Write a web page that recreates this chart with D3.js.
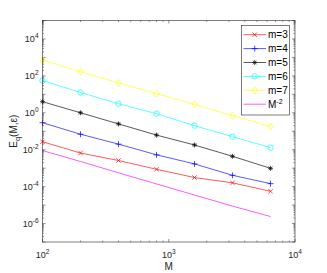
<!DOCTYPE html>
<html>
<head>
<meta charset="utf-8">
<script src="https://d3js.org/d3.v7.min.js"></script>
<style>
  body { margin: 0; background: #fff; }
  svg { display: block; font-family: "Liberation Sans", Arial, sans-serif; }
</style>
</head>
<body>
<div id="chart"></div>
<script>
// grid sizes M
const mValues = [100, 200, 400, 800, 1600, 3200, 6400];

// error values, one array per m
const errM3 = [2.7e-2, 6.6e-3, 2.6e-3, 8.7e-4, 3.1e-4, 1.6e-4, 5.6e-5];
const errM4 = [2.9e-1, 6.9e-2, 2.0e-2, 5.3e-3, 1.7e-3, 4.1e-4, 1.45e-4];
const errM5 = [4.0, 1.0, 2.5e-1, 6.2e-2, 1.8e-2, 4.4e-3, 9.8e-4];
const errM6 = [56, 12.6, 3.1, 8.9e-1, 2.0e-1, 5.1e-2, 1.3e-2];
const errM7 = [720, 170, 42, 11, 2.9, 7.0e-1, 1.8e-1];
const refM2 = [9.0e-3, 2.3e-3, 5.6e-4, 1.4e-4, 3.5e-5, 8.8e-6, 2.4e-6];

const seriesNames = ['m=3', 'm=4', 'm=5', 'm=6', 'm=7', 'M-2'];
const yTickLabels = [-6, -4, -2, 0, 2, 4];
const xTickLabels = [2, 3, 4];

const series = [
    { name: seriesNames[0], values: errM3, color: '#ff0000', marker: 'x' },
    { name: seriesNames[1], values: errM4, color: '#0000ff', marker: 'plus' },
    { name: seriesNames[2], values: errM5, color: '#000000', marker: 'star' },
    { name: seriesNames[3], values: errM6, color: '#00ffff', marker: 'circle' },
    { name: seriesNames[4], values: errM7, color: '#ffff00', marker: 'diamond' },
    { name: seriesNames[5], values: refM2, color: '#ff00ff', marker: 'none' }
];

const width = 327, height = 273;
const margin = { left: 42.5, right: 32, top: 20.5, bottom: 31 };

const svg = d3.select('#chart').append('svg')
    .attr('width', width)
    .attr('height', height);

const x = d3.scaleLog().domain([1e2, 1e4]).range([margin.left, width - margin.right]);
const y = d3.scaleLog().domain([1e-7, 1e5]).range([height - margin.bottom, margin.top]);

const x0 = x.range()[0], x1 = x.range()[1];
const y0 = y.range()[0], y1 = y.range()[1];

// ticks (inside, on all four sides like matlab box on)
const tickG = svg.append('g').attr('stroke', '#262626').attr('stroke-width', 0.5);

const yMinor = [];
for (let e = -7; e < 5; e++) {
    for (let k = 2; k <= 9; k++) yMinor.push(k * Math.pow(10, e));
}
yMinor.forEach(v => {
    tickG.append('line').attr('x1', x0).attr('x2', x0 + 1.5).attr('y1', y(v)).attr('y2', y(v));
    tickG.append('line').attr('x1', x1).attr('x2', x1 - 1.5).attr('y1', y(v)).attr('y2', y(v));
});
d3.range(-7, 6).forEach(e => {
    const v = Math.pow(10, e);
    tickG.append('line').attr('x1', x0).attr('x2', x0 + 3).attr('y1', y(v)).attr('y2', y(v));
    tickG.append('line').attr('x1', x1).attr('x2', x1 - 3).attr('y1', y(v)).attr('y2', y(v));
});

const xMinor = [];
for (let e = 2; e < 4; e++) {
    for (let k = 2; k <= 9; k++) xMinor.push(k * Math.pow(10, e));
}
xMinor.forEach(v => {
    tickG.append('line').attr('x1', x(v)).attr('x2', x(v)).attr('y1', y0).attr('y2', y0 - 1.5);
    tickG.append('line').attr('x1', x(v)).attr('x2', x(v)).attr('y1', y1).attr('y2', y1 + 1.5);
});
xTickLabels.forEach(e => {
    const v = Math.pow(10, e);
    tickG.append('line').attr('x1', x(v)).attr('x2', x(v)).attr('y1', y0).attr('y2', y0 - 3);
    tickG.append('line').attr('x1', x(v)).attr('x2', x(v)).attr('y1', y1).attr('y2', y1 + 3);
});

// tick labels
const labelColor = '#262626';
yTickLabels.forEach(e => {
    const t = svg.append('text')
        .attr('x', x0 - 4)
        .attr('y', y(Math.pow(10, e)) + 3.5)
        .attr('text-anchor', 'end')
        .attr('font-size', 9)
        .attr('fill', labelColor);
    t.append('tspan').text('10');
    t.append('tspan').attr('dy', -4).attr('font-size', 6.5).text(e);
});
xTickLabels.forEach(e => {
    const t = svg.append('text')
        .attr('x', x(Math.pow(10, e)))
        .attr('y', y0 + 16)
        .attr('text-anchor', 'middle')
        .attr('font-size', 9)
        .attr('fill', labelColor);
    t.append('tspan').text('10');
    t.append('tspan').attr('dy', -4).attr('font-size', 6.5).text(e);
});

// axis titles
svg.append('text')
    .attr('x', x(1e3))
    .attr('y', height - 3)
    .attr('text-anchor', 'middle')
    .attr('font-size', 10)
    .attr('fill', labelColor)
    .text('M');

const yTitle = svg.append('text')
    .attr('transform', `translate(17,${(y0 + y1) / 2}) rotate(-90)`)
    .attr('text-anchor', 'middle')
    .attr('font-size', 10)
    .attr('fill', labelColor);
yTitle.append('tspan').text('E');
yTitle.append('tspan').attr('dy', 3).attr('font-size', 7.5).text('q');
yTitle.append('tspan').attr('dy', -3).text('(M,ε)');

// lines and markers
const line = d3.line()
    .x((d, i) => x(mValues[i]))
    .y(d => y(d));

function drawMarker(g, type, cx, cy, color) {
    const sw = 0.7;
    if (type === 'x') {
        const s = 2.2;
        g.append('path').attr('d', `M${cx - s},${cy - s}L${cx + s},${cy + s}M${cx - s},${cy + s}L${cx + s},${cy - s}`)
            .attr('stroke', color).attr('stroke-width', sw).attr('fill', 'none');
    } else if (type === 'plus') {
        const s = 3;
        g.append('path').attr('d', `M${cx - s},${cy}L${cx + s},${cy}M${cx},${cy - s}L${cx},${cy + s}`)
            .attr('stroke', color).attr('stroke-width', sw).attr('fill', 'none');
    } else if (type === 'star') {
        const s = 2.5, d = 1.8;
        g.append('path').attr('d', `M${cx - s},${cy}L${cx + s},${cy}M${cx},${cy - s}L${cx},${cy + s}` +
            `M${cx - d},${cy - d}L${cx + d},${cy + d}M${cx - d},${cy + d}L${cx + d},${cy - d}`)
            .attr('stroke', color).attr('stroke-width', sw).attr('fill', 'none');
    } else if (type === 'circle') {
        g.append('circle').attr('cx', cx).attr('cy', cy).attr('r', 2.7)
            .attr('stroke', color).attr('stroke-width', sw).attr('fill', 'none');
    } else if (type === 'diamond') {
        g.append('path').attr('d', `M${cx},${cy - 3.5}L${cx + 2.7},${cy}L${cx},${cy + 3.5}L${cx - 2.7},${cy}Z`)
            .attr('stroke', color).attr('stroke-width', sw).attr('fill', 'none');
    }
}

const plotG = svg.append('g');
series.forEach(s => {
    plotG.append('path')
        .datum(s.values)
        .attr('d', line)
        .attr('fill', 'none')
        .attr('stroke', s.color)
        .attr('stroke-width', 0.65);
    s.values.forEach((v, i) => drawMarker(plotG, s.marker, x(mValues[i]), y(v), s.color));
});

// axes box
svg.append('rect')
    .attr('x', x0).attr('y', y1)
    .attr('width', x1 - x0).attr('height', y0 - y1)
    .attr('fill', 'none')
    .attr('stroke', '#262626')
    .attr('stroke-width', 0.6);

// legend
const legX = 241.5, legY = 25.5, legW = 48, legH = 89.5, rowH = 13.9;
const leg = svg.append('g');
leg.append('rect')
    .attr('x', legX).attr('y', legY)
    .attr('width', legW).attr('height', legH)
    .attr('fill', '#fff')
    .attr('stroke', '#262626')
    .attr('stroke-width', 0.6);

series.forEach((s, i) => {
    const cy = legY + 9.2 + i * rowH;
    leg.append('line')
        .attr('x1', legX + 2).attr('x2', legX + 24.5)
        .attr('y1', cy).attr('y2', cy)
        .attr('stroke', s.color).attr('stroke-width', 0.65);
    drawMarker(leg, s.marker, legX + 13.2, cy, s.color);
    const t = leg.append('text')
        .attr('x', legX + 26.5)
        .attr('y', cy + 3.5)
        .attr('font-size', 10)
        .attr('fill', '#000');
    if (s.name === 'M-2') {
        t.append('tspan').text('M');
        t.append('tspan').attr('dy', -4).attr('font-size', 7).text('-2');
    } else {
        t.text(s.name);
    }
});
</script>
</body>
</html>
